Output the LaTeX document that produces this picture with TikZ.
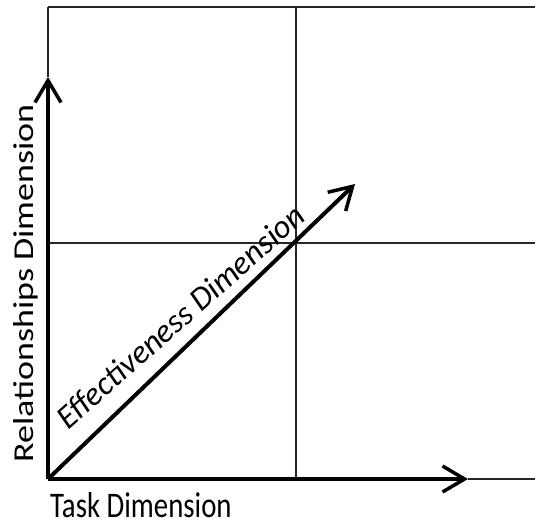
\documentclass[tikz,border=0pt]{standalone}
\usepackage{fontspec}
\setmainfont{Carlito}
\usetikzlibrary{arrows.meta}
\begin{document}
\begin{tikzpicture}[x=1pt,y=-1pt,
  thin rule/.style={line width=2pt, black!85},
  axis/.style={line width=4pt, black, -{Straight Barb[length=22pt,width=26pt,line width=3.5pt]}},
  label/.style={inner sep=0pt, font=\fontsize{36}{40}\selectfont}]
  \useasboundingbox (0,0) rectangle (535,523);
  % grid frame
  \coordinate (O) at (48,479);
  \coordinate (TL) at (48,6.5);
  \coordinate (TR) at (535,6.5);
  \coordinate (MT) at (296,6.5);
  \coordinate (MB) at (296,479);
  \coordinate (ML) at (48,243);
  \coordinate (MR) at (535,243);
  \coordinate (YT) at (48,77);
  \coordinate (XT) at (468,479);
  \coordinate (XR) at (535,479);
  \coordinate (DT) at (355,184);
  \draw[thin rule] (TL) -- (TR);
  \draw[thin rule] (TL) -- (YT);
  \draw[thin rule] (MT) -- (MB);
  \draw[thin rule] (ML) -- (MR);
  \draw[thin rule] (XT) -- (XR);
  % axes
  \draw[axis] (O) -- (YT);
  \draw[axis] (O) -- (XT);
  \draw[axis] (O) -- (DT);
  % labels
  \node[label, anchor=base west] (task) at (50,517) {\scalebox{0.8}[1]{Task Dimension}};
  \node[label, anchor=base west, rotate=90] (rel) at (33,463) {\scalebox{1}[0.8]{Relationships Dimension}};
  \node[label, anchor=base west, rotate=41.5, font=\fontsize{33}{36}\selectfont\itshape] (eff) at (68,431) {Effectiveness Dimension};
\end{tikzpicture}
\end{document}
